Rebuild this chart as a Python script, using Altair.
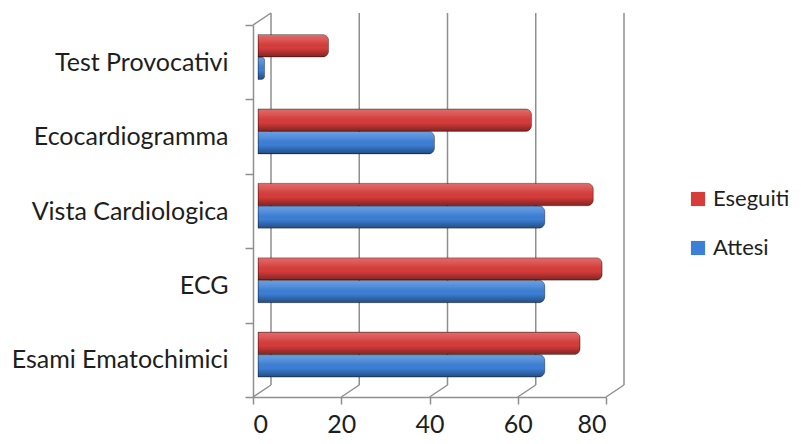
import altair as alt
import pandas as pd

categories = ["Test Provocativi", "Ecocardiogramma", "Vista Cardiologica", "ECG", "Esami Ematochimici"]
eseguiti = [16, 62, 76, 78, 73]
attesi = [1.5, 40, 65, 65, 65]
series = ["Eseguiti", "Attesi"]
x_ticks = [0, 20, 40, 60, 80]

rows = []
for c, e, a in zip(categories, eseguiti, attesi):
    rows.append({"cat": c, "serie": "Eseguiti", "val": e})
    rows.append({"cat": c, "serie": "Attesi", "val": a})
df = pd.DataFrame(rows)
ticks_df = pd.DataFrame({"t": x_ticks})
one_df = pd.DataFrame({"k": [0]})

W, H = 353, 372
DX, DY = 18, 12
GRID = "#8f8f8f"
FONT = "Lato"
TXT = "#1e1e1e"

xscale = alt.Scale(domain=[0, 80], nice=False)
xscale_bars = alt.Scale(domain=[0, 80], nice=False, range=[5, W + 5])

back_grid = alt.Chart(ticks_df).mark_rule(xOffset=DX, color=GRID, strokeWidth=1.5).encode(
    x=alt.X("t:Q", scale=xscale,
            axis=alt.Axis(title=None, values=x_ticks, domainColor=GRID, domainWidth=1.5,
                          tickColor=GRID, tickWidth=1.5, tickSize=7, labelFont=FONT,
                          labelFontSize=25, labelColor=TXT, labelPadding=8, grid=False)),
    y=alt.value(-DY), y2=alt.value(H - DY))

floor = alt.Chart(ticks_df).mark_rule(x2Offset=DX, color=GRID, strokeWidth=1.5).encode(
    x=alt.X("t:Q", scale=xscale, axis=None), x2="t:Q",
    y=alt.value(H), y2=alt.value(H - DY))

top_diag = alt.Chart(one_df).mark_rule(color=GRID, strokeWidth=1.5).encode(
    x=alt.value(0), x2=alt.value(DX), y=alt.value(0), y2=alt.value(-DY))

base = alt.Chart(df).encode(
    y=alt.Y("cat:N", sort=categories,
            scale=alt.Scale(paddingInner=0, paddingOuter=0),
            axis=alt.Axis(title=None, domainColor=GRID, domainWidth=1.5, tickColor=GRID,
                          tickWidth=1.5, tickSize=8, tickBand="extent", labelFont=FONT,
                          labelFontSize=25, labelColor=TXT, labelPadding=17, labelLimit=0,
                          grid=False)),
    yOffset=alt.YOffset("serie:N", sort=series,
                        scale=alt.Scale(domain=series, range=[9.5, 54.5], paddingInner=0, paddingOuter=0)),
    x=alt.X("val:Q", scale=xscale_bars, axis=None),
)

bars = base.mark_bar(cornerRadiusEnd=6).encode(
    color=alt.Color("serie:N", scale=alt.Scale(domain=series, range=["#D63C3A", "#3C7FD6"]),
                    legend=alt.Legend(title=None, orient="none", legendX=434, legendY=163,
                                      symbolType="square", symbolSize=200, symbolStrokeWidth=0,
                                      labelFont=FONT, labelFontSize=22, labelColor=TXT,
                                      labelOffset=4, labelLimit=0, rowPadding=27, padding=0)))

gradient = {
    "gradient": "linear", "x1": 0, "y1": 0, "x2": 0, "y2": 1,
    "stops": [
        {"offset": 0, "color": "rgba(255,255,255,0.25)"},
        {"offset": 0.3, "color": "rgba(255,255,255,0.10)"},
        {"offset": 0.6, "color": "rgba(0,0,0,0.0)"},
        {"offset": 1, "color": "rgba(0,0,0,0.40)"},
    ],
}
shade = base.mark_bar(cornerRadiusEnd=6, fill=gradient,
                      stroke="rgba(0,0,0,0.30)", strokeWidth=1)

chart = alt.layer(back_grid, floor, top_diag, bars, shade).resolve_scale(
    x="independent").resolve_axis(x="independent").properties(
    width=W, height=H,
    autosize=alt.AutoSizeParams(type="none"),
    padding={"left": 245, "top": 17, "right": 187, "bottom": 39},
    background="white",
).configure_view(stroke=None)

chart.save("out.html", embed_options={"renderer": "svg", "actions": False})
